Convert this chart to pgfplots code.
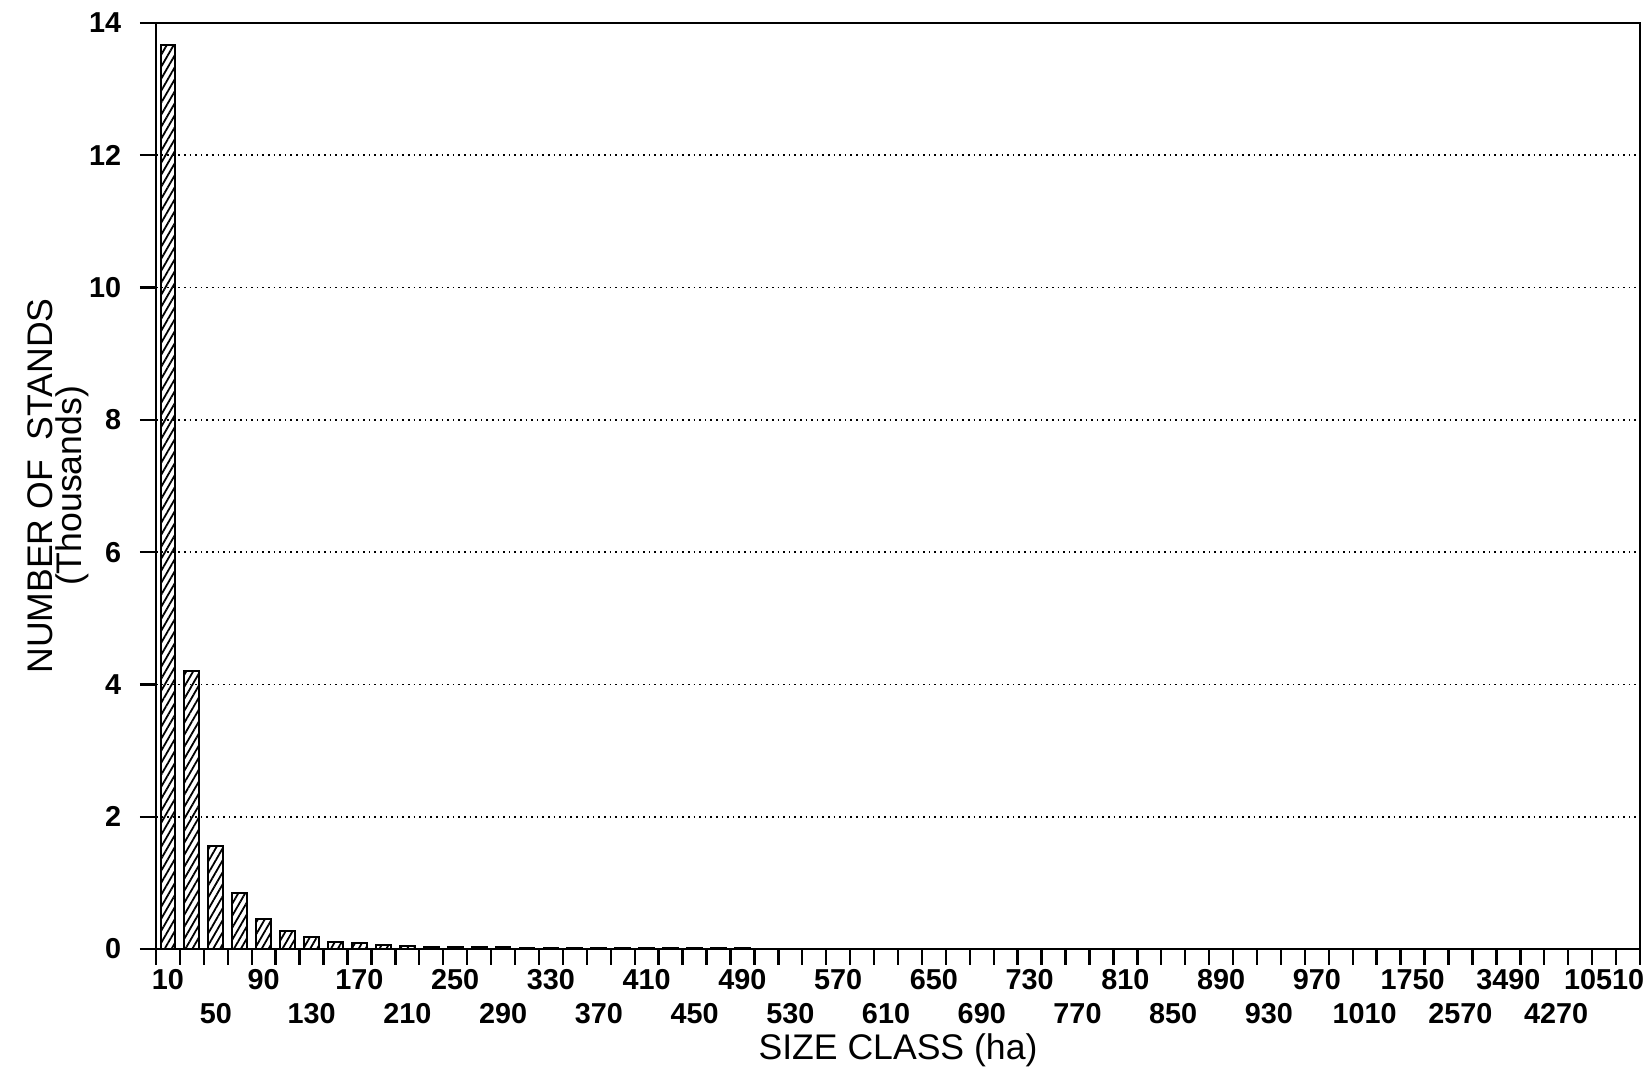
\documentclass[border=0pt]{standalone}
\usepackage{fontspec}
\setmainfont{Liberation Sans}
\usepackage{pgfplots}
\pgfplotsset{compat=1.18}
\usetikzlibrary{patterns.meta}
\begin{document}
\begin{tikzpicture}
\useasboundingbox (-39pt,-32.25pt) rectangle (373pt,237.25pt);
\begin{axis}[
  at={(0pt,0pt)}, anchor=south west,
  scale only axis, width=371pt, height=231.5pt,
  xmin=0.5, xmax=62.5, ymin=0, ymax=14,
  axis line style={line width=0.6pt},
  ytick={0,2,...,14},
  minor ytick={0,2,...,14},
  xtick={1,5,...,61},
  xticklabels={10,90,170,250,330,410,490,570,650,730,810,890,970,1750,3490,10510},
  extra x ticks={3,7,...,59},
  extra x tick labels={50,130,210,290,370,450,530,610,690,770,850,930,1010,2570,4270},
  extra x tick style={grid=none, xticklabel style={yshift=-8.4pt}},
  minor xtick={0.5,1.5,...,62.5},
  major tick length=0pt,
  minor tick length=4pt,
  tick align=outside,
  xtick pos=bottom, ytick pos=left,
  minor tick style={black, line width=0.6pt},
  ymajorgrids, xmajorgrids=false,
  major grid style={black, densely dotted, line width=0.45pt},
  tick label style={font=\fontsize{7.2}{8}\selectfont\bfseries},
  xticklabel style={anchor=north, yshift=-1.6pt},
  yticklabel style={anchor=east, xshift=-5.2pt},
  /pgf/number format/assume math mode=true,
  xlabel={SIZE CLASS (ha)},
  ylabel={NUMBER OF\ \ STANDS\\(Thousands)},
  label style={font=\fontsize{8.9}{7.4}\selectfont},
  xlabel style={at={(axis description cs:0.5,-0.1089)}, anchor=center},
  ylabel style={at={(axis description cs:-0.066,0.5)}, anchor=center, align=center},
]
\addplot[ybar, bar width=0.62, draw=black, line width=0.5pt,
  pattern={Lines[angle=60,distance=1.5pt,line width=0.45pt]}, pattern color=black]
coordinates {
(1,13.66) (2,4.21) (3,1.56) (4,0.84) (5,0.45) (6,0.27) (7,0.18) (8,0.11)
(9,0.085) (10,0.065) (11,0.045) (12,0.035) (13,0.03) (14,0.035) (15,0.025)
(16,0.02) (17,0.02) (18,0.015) (19,0.015) (20,0.012) (21,0.01) (22,0.01)
(23,0.008) (24,0.008) (25,0.01) (26,0.006) (27,0.005) (28,0.005)
};
\end{axis}
\end{tikzpicture}
\end{document}
